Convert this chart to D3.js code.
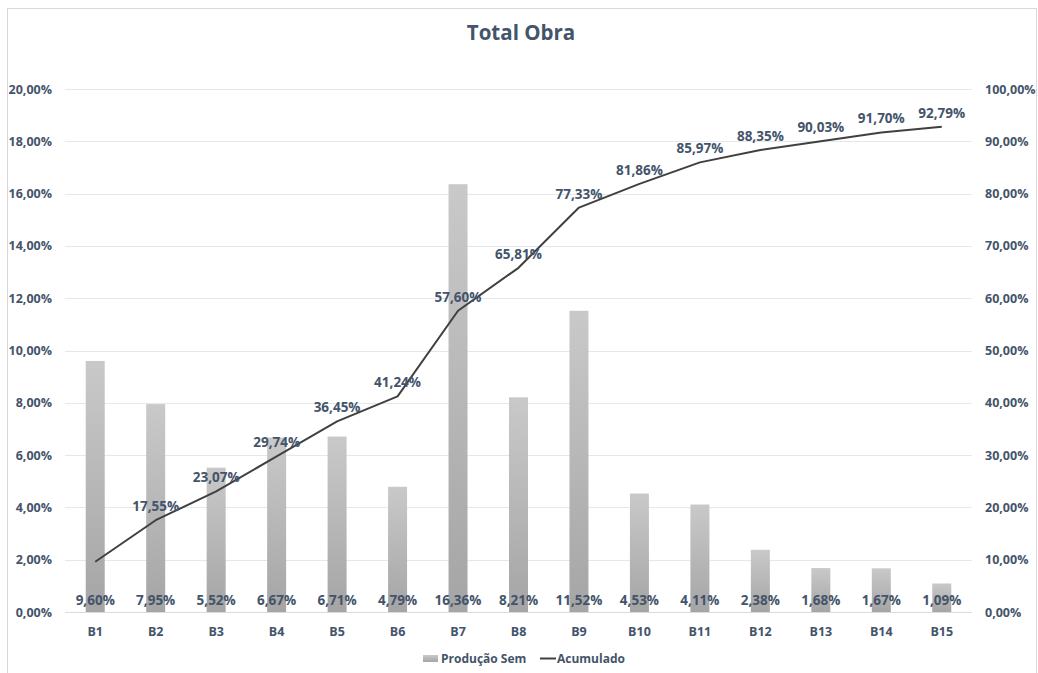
<!DOCTYPE html>
<html>
<head>
<meta charset="utf-8">
<script src="https://cdn.jsdelivr.net/npm/d3@7/dist/d3.min.js"></script>
<style>
  html, body { margin: 0; padding: 0; background: #ffffff; }
  svg { display: block; font-family: "Open Sans", "Noto Sans", sans-serif; }
</style>
</head>
<body>
<svg id="chart" width="1038" height="673"></svg>
<script>
// Weekly production per block and its running total
const categories = ["B1","B2","B3","B4","B5","B6","B7","B8","B9","B10","B11","B12","B13","B14","B15"];
const producao = [9.60, 7.95, 5.52, 6.67, 6.71, 4.79, 16.36, 8.21, 11.52, 4.53, 4.11, 2.38, 1.68, 1.67, 1.09];
const acumulado = [9.60, 17.55, 23.07, 29.74, 36.45, 41.24, 57.60, 65.81, 77.33, 81.86, 85.97, 88.35, 90.03, 91.70, 92.79];
const leftTicks = [0, 2, 4, 6, 8, 10, 12, 14, 16, 18, 20];
const rightTicks = [0, 10, 20, 30, 40, 50, 60, 70, 80, 90, 100];
const seriesNames = ["Produção Sem", "Acumulado"];
const titleText = "Total Obra";

const textColor = "#44546a";
const fmt = v => v.toFixed(2).replace(".", ",") + "%";

const svg = d3.select("#chart");

// outer chart frame
svg.append("rect")
  .attr("x", 7.5).attr("y", 8.5).attr("width", 1029).attr("height", 680)
  .attr("fill", "#ffffff").attr("stroke", "#d9d9d9").attr("stroke-width", 1);

const plot = { left: 65, right: 972, top: 89, bottom: 612 };

const x = d3.scaleBand()
  .domain(categories)
  .range([plot.left, plot.right])
  .paddingInner(0.686)
  .paddingOuter(0.343);

const yL = d3.scaleLinear().domain([0, 20]).range([plot.bottom, plot.top]);
const yR = d3.scaleLinear().domain([0, 100]).range([plot.bottom, plot.top]);

// bar gradient, light at top and darker at the base
const defs = svg.append("defs");
const grad = defs.append("linearGradient")
  .attr("id", "barGrad").attr("x1", 0).attr("y1", 0).attr("x2", 0).attr("y2", 1);
grad.append("stop").attr("offset", "0%").attr("stop-color", "#c9c9c9");
grad.append("stop").attr("offset", "100%").attr("stop-color", "#a5a5a5");

// gridlines
svg.append("g").selectAll("line")
  .data(leftTicks)
  .join("line")
  .attr("x1", plot.left).attr("x2", plot.right)
  .attr("y1", d => Math.round(yL(d)) + 0.5).attr("y2", d => Math.round(yL(d)) + 0.5)
  .attr("stroke", d => d === 0 ? "#d9dde3" : "#e4e7ec")
  .attr("stroke-width", 1);

const axisFont = sel => sel
  .attr("fill", textColor).attr("font-size", "12.5px").attr("font-weight", 700)
  .attr("font-family", "'Open Sans', sans-serif");

// left axis
const axisL = svg.append("g")
  .attr("transform", `translate(52,0)`)
  .call(d3.axisLeft(yL).tickValues(leftTicks).tickSize(0).tickPadding(0).tickFormat(fmt));
axisL.select(".domain").remove();
axisL.selectAll("text").call(axisFont);

// right axis
const axisR = svg.append("g")
  .attr("transform", `translate(985,0)`)
  .call(d3.axisRight(yR).tickValues(rightTicks).tickSize(0).tickPadding(0).tickFormat(fmt));
axisR.select(".domain").remove();
axisR.selectAll("text").call(axisFont);

// category axis
const axisB = svg.append("g")
  .attr("transform", `translate(0,${plot.bottom})`)
  .call(d3.axisBottom(x).tickSize(0).tickPadding(15));
axisB.select(".domain").remove();
axisB.selectAll("text").call(axisFont);

// bars
svg.append("g").selectAll("rect")
  .data(producao)
  .join("rect")
  .attr("x", (d, i) => x(categories[i]))
  .attr("width", x.bandwidth())
  .attr("y", d => yL(d))
  .attr("height", d => yL(0) - yL(d))
  .attr("fill", "url(#barGrad)");

// bar labels at the base
svg.append("g").selectAll("text")
  .data(producao)
  .join("text")
  .attr("x", (d, i) => x(categories[i]) + x.bandwidth() / 2)
  .attr("y", plot.bottom - 7)
  .attr("text-anchor", "middle")
  .attr("fill", textColor).attr("font-size", "13.5px").attr("font-weight", 700)
  .text(d => fmt(d));

// cumulative line
const line = d3.line()
  .x((d, i) => x(categories[i]) + x.bandwidth() / 2)
  .y(d => yR(d));
svg.append("path")
  .datum(acumulado)
  .attr("d", line)
  .attr("fill", "none")
  .attr("stroke", "#404040")
  .attr("stroke-width", 2)
  .attr("stroke-linejoin", "round");

// cumulative labels above the points (first point shares the bar label)
svg.append("g").selectAll("text")
  .data(acumulado.map((v, i) => ({ v, i })).filter(d => d.i > 0))
  .join("text")
  .attr("x", d => x(categories[d.i]) + x.bandwidth() / 2)
  .attr("y", d => yR(d.v) - 9)
  .attr("text-anchor", "middle")
  .attr("fill", textColor).attr("font-size", "13.5px").attr("font-weight", 700)
  .text(d => fmt(d.v));

// title
svg.append("text")
  .attr("x", 521).attr("y", 40)
  .attr("text-anchor", "middle")
  .attr("fill", textColor).attr("font-size", "20.5px").attr("font-weight", 700)
  .text(titleText);

// legend
const lg = svg.append("g");
lg.append("rect")
  .attr("x", 423).attr("y", 655).attr("width", 15).attr("height", 7)
  .attr("fill", "url(#barGrad)");
lg.append("text")
  .attr("x", 441).attr("y", 663)
  .attr("fill", textColor).attr("font-size", "12px").attr("font-weight", 700)
  .text(seriesNames[0]);
lg.append("line")
  .attr("x1", 540).attr("x2", 556).attr("y1", 658.5).attr("y2", 658.5)
  .attr("stroke", "#404040").attr("stroke-width", 2);
lg.append("text")
  .attr("x", 557).attr("y", 663)
  .attr("fill", textColor).attr("font-size", "12px").attr("font-weight", 700)
  .text(seriesNames[1]);
</script>
</body>
</html>
